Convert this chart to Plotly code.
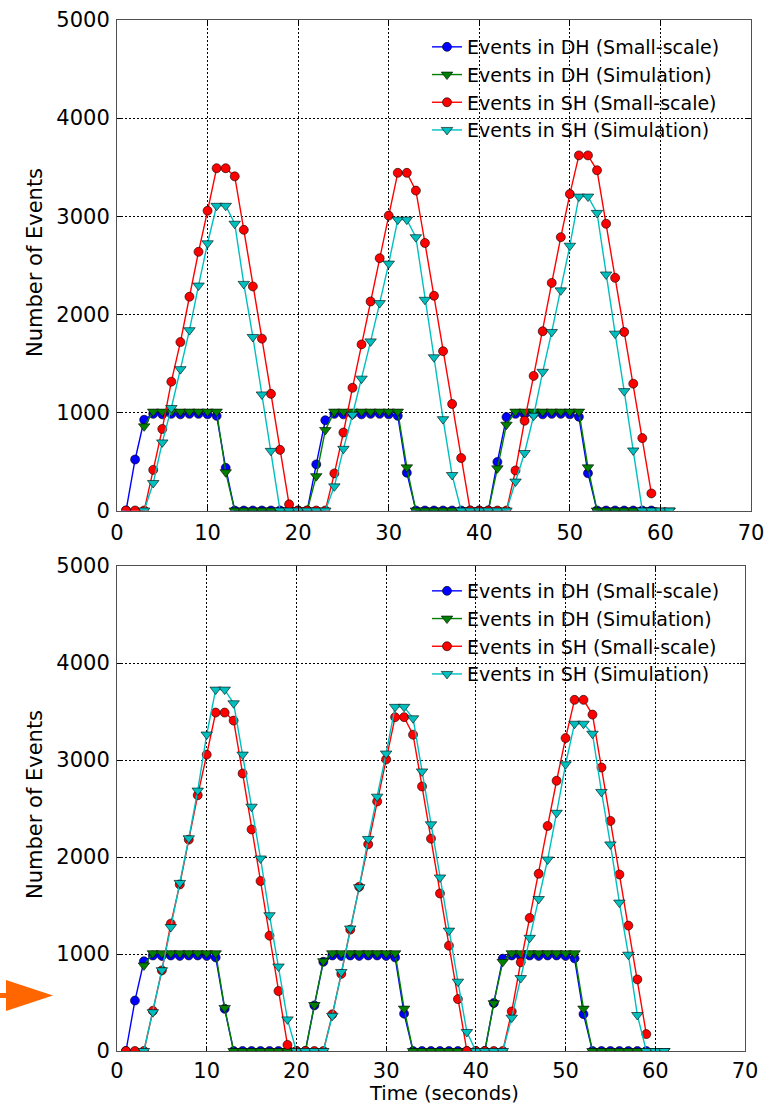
import plotly.graph_objects as go

# ---- data -------------------------------------------------------------
# small-scale experiment: t = 1 .. 59 s
t_small = list(range(1, 60))
dh_small = [0, 520, 925, 985, 980, 985, 980, 985, 985, 980, 965, 435, 0, 0, 0, 0, 0, 0, 0, 0,
            0, 470, 920, 985, 980, 985, 980, 985, 985, 980, 965, 385, 0, 0, 0, 0, 0, 0, 0, 0,
            0, 495, 952, 985, 980, 985, 980, 985, 985, 980, 955, 380, 0, 0, 0, 0, 0, 0, 0]
sh_small = [0, 0, 0, 414, 831, 1313, 1717, 2179, 2637, 3055, 3489, 3489, 3406, 2861, 2284, 1752, 1189, 618, 63, 0,
            0, 0, 0, 378, 795, 1251, 1693, 2131, 2572, 3006, 3442, 3442, 3261, 2727, 2189, 1624, 1086, 535, 0, 0,
            0, 0, 0, 408, 915, 1372, 1827, 2320, 2786, 3226, 3620, 3620, 3468, 2923, 2372, 1820, 1293, 738, 174]

# simulation runs: t = 3 .. 61 s
t_sim = list(range(3, 62))
# upper panel
dh_sim_a = [858, 1008, 1008, 1008, 1008, 1008, 1008, 1008, 1008, 390, 0, 0, 0, 0, 0, 0, 0, 0, 0,
            350, 820, 1008, 1008, 1008, 1008, 1008, 1008, 1008, 1008, 440, 0, 0, 0, 0, 0, 0, 0, 0, 0,
            430, 875, 1008, 1008, 1008, 1008, 1008, 1008, 1008, 1008, 440, 0, 0, 0, 0, 0, 0, 0, 0, 0]
sh_sim_a = [0, 280, 694, 1045, 1441, 1838, 2293, 2724, 3106, 3106, 2923, 2310, 1769, 1183, 608, 0, 0, 0, 0, 0, 0,
            246, 629, 976, 1344, 1724, 2114, 2517, 2965, 2965, 2786, 2148, 1562, 931, 362, 0, 0, 0, 0, 0, 0,
            295, 586, 966, 1414, 1820, 2244, 2699, 3200, 3200, 3034, 2406, 1803, 1217, 612, 0, 0, 0, 0]
# lower panel
dh_sim_b = [882, 1008, 1008, 1008, 1008, 1008, 1008, 1008, 1008, 444, 0, 0, 0, 0, 0, 0, 0, 0, 0,
            474, 926, 1008, 1008, 1008, 1008, 1008, 1008, 1008, 1008, 437, 0, 0, 0, 0, 0, 0, 0, 0, 0,
            493, 919, 1008, 1008, 1008, 1008, 1008, 1008, 1008, 1008, 437, 0, 0, 0, 0, 0, 0, 0, 0, 0]
sh_sim_b = [0, 400, 833, 1278, 1733, 2193, 2685, 3263, 3726, 3726, 3585, 3056, 2519, 1985, 1400, 871, 326, 0, 0, 0, 0,
            363, 815, 1263, 1689, 2186, 2622, 3067, 3548, 3548, 3430, 2882, 2337, 1789, 1241, 715, 196, 0, 0, 0, 0,
            344, 752, 1167, 1567, 1974, 2456, 2956, 3374, 3374, 3271, 2671, 2130, 1530, 993, 371, 0, 0, 0]

x_ticks = [0, 10, 20, 30, 40, 50, 60, 70]
y_ticks = [0, 1000, 2000, 3000, 4000, 5000]

names = ["Events in DH (Small-scale)", "Events in DH (Simulation)",
         "Events in SH (Small-scale)", "Events in SH (Simulation)"]
colors = ["#0000FF", "#007F00", "#FF0000", "#00BFBF"]
symbols = ["circle", "triangle-down", "circle", "triangle-down"]

W, H = 776, 1105
FONT = "DejaVu Sans"

fig = go.Figure()


def add_panel(xa, ya, legend, series):
    for i, (xs, ys) in enumerate(series):
        fig.add_trace(go.Scatter(
            x=xs, y=ys, mode="lines+markers", name=names[i],
            xaxis=xa, yaxis=ya, legend=legend, legendgroup=legend + str(i),
            line=dict(color=colors[i], width=1.4),
            marker=dict(symbol=symbols[i], size=10 if i % 2 else 9, color=colors[i],
                        line=dict(color="black", width=0.6)),
        ))


add_panel("x", "y", "legend",
          [(t_small, dh_small), (t_sim, dh_sim_a), (t_small, sh_small), (t_sim, sh_sim_a)])
add_panel("x2", "y2", "legend2",
          [(t_small, dh_small), (t_sim, dh_sim_b), (t_small, sh_small), (t_sim, sh_sim_b)])


def px_x(v):
    return v / W


def px_y(v):
    return 1 - v / H


axis_common = dict(
    showline=True, linecolor="#505050", linewidth=1, mirror="allticks",
    ticks="inside", ticklen=5, tickcolor="black", tickwidth=1,
    showgrid=True, gridcolor="black", gridwidth=1, griddash="1.5px,2.5px",
    zeroline=False, automargin=False,
    tickfont=dict(family=FONT, size=21, color="black"),
)

fig.update_layout(
    width=W, height=H,
    margin=dict(l=0, r=0, t=0, b=0),
    paper_bgcolor="white", plot_bgcolor="white",
    font=dict(family=FONT, size=19, color="black"),
    xaxis=dict(domain=[px_x(117), px_x(751)], range=[0, 70], tickvals=x_ticks,
               anchor="y", ticklabelstandoff=3, **axis_common),
    yaxis=dict(domain=[px_y(510.5), px_y(20)], range=[0, 5000], tickvals=y_ticks,
               anchor="x", ticklabelstandoff=2, **axis_common),
    xaxis2=dict(domain=[px_x(117), px_x(745)], range=[0, 70], tickvals=x_ticks,
                anchor="y2", ticklabelstandoff=1, **axis_common),
    yaxis2=dict(domain=[px_y(1051), px_y(566)], range=[0, 5000], tickvals=y_ticks,
                anchor="x2", ticklabelstandoff=2, **axis_common),
    legend=dict(x=px_x(427), y=px_y(28), xanchor="left", yanchor="top",
                bgcolor="rgba(0,0,0,0)", borderwidth=0, tracegroupgap=0,
                font=dict(family=FONT, size=19, color="black"), itemwidth=30),
    legend2=dict(x=px_x(427), y=px_y(572), xanchor="left", yanchor="top",
                 bgcolor="rgba(0,0,0,0)", borderwidth=0, tracegroupgap=0,
                 font=dict(family=FONT, size=19, color="black"), itemwidth=30),
)

# axis titles
ylab_font = dict(family=FONT, size=21, color="black")
xlab_font = dict(family=FONT, size=19.5, color="black")
fig.add_annotation(text="Number of Events", textangle=-90, x=px_x(35), y=px_y(263),
                   xref="paper", yref="paper", xanchor="center", yanchor="middle",
                   showarrow=False, font=ylab_font)
fig.add_annotation(text="Number of Events", textangle=-90, x=px_x(35), y=px_y(805),
                   xref="paper", yref="paper", xanchor="center", yanchor="middle",
                   showarrow=False, font=ylab_font)
fig.add_annotation(text="Time (seconds)", x=px_x(444), y=px_y(1093),
                   xref="paper", yref="paper", xanchor="center", yanchor="middle",
                   showarrow=False, font=xlab_font)

# orange pointer at the left margin
orange = "#FF6600"
fig.add_shape(type="path", xref="paper", yref="paper",
              path=f"M {px_x(6)},{px_y(980)} L {px_x(53)},{px_y(995.5)} L {px_x(6)},{px_y(1011)} Z",
              fillcolor=orange, line=dict(width=0))
fig.add_shape(type="rect", xref="paper", yref="paper",
              x0=px_x(0), x1=px_x(7), y0=px_y(998), y1=px_y(993),
              fillcolor=orange, line=dict(width=0))

fig.write_html("out.html")
